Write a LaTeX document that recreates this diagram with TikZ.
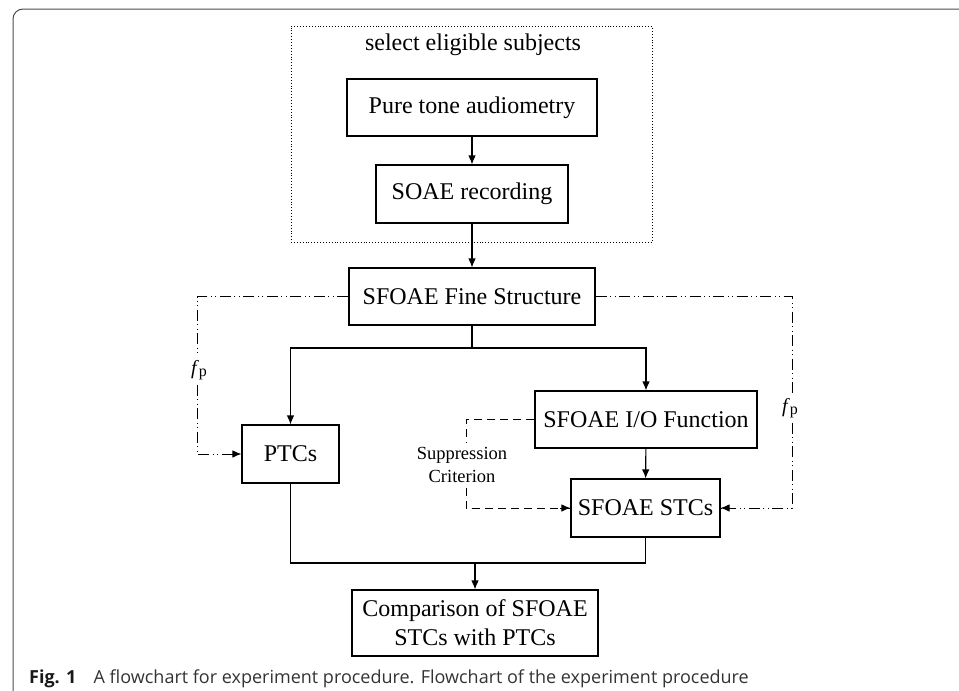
\documentclass[tikz,border=0pt]{standalone}
\usepackage{fontspec}
\setmainfont{Liberation Serif}
\newfontfamily\capfont{Open Sans}
\usetikzlibrary{arrows.meta}
\begin{document}
\begin{tikzpicture}[x=1pt,y=-1pt,
  box/.style={draw,line width=1.1pt,inner sep=0pt,font=\fontsize{24}{28}\selectfont,align=center},
  flow/.style={line width=1.1pt,-{Latex[length=9pt,width=7.5pt]}},
  plain/.style={line width=1.1pt},
  dd/.style={line width=0.9pt,dash pattern=on 11pt off 3.5pt on 1pt off 3.5pt on 1pt off 3.5pt},
  dsh/.style={line width=1.0pt,dash pattern=on 8pt off 5pt},
  tip/.style={-{Latex[length=9pt,width=7.5pt]}},
  lab/.style={inner xsep=2pt,inner ysep=5pt}]
\useasboundingbox (0,0) rectangle (959,691);
% page frame
\draw[line width=1pt,color=black!70,rounded corners=10pt] (975,9) -- (13,9) -- (13,710);
% dotted group
\node[draw,dotted,line width=0.9pt,minimum width=361pt,minimum height=216pt,inner sep=0pt] (grp) at (471.5,134) {};
\node[font=\fontsize{24}{28}\selectfont] (sel) at (473,45) {select eligible subjects};
% boxes
\node[box,minimum width=250pt,minimum height=57pt] (pta) at (472,107.5) {Pure tone audiometry};
\node[box,minimum width=192pt,minimum height=58pt] (soae) at (472,194) {SOAE recording};
\node[box,minimum width=246pt,minimum height=57pt] (fs) at (472,296.5) {SFOAE Fine Structure};
\node[box,minimum width=97pt,minimum height=58pt] (ptc) at (290.5,454) {PTCs};
\node[box,minimum width=222pt,minimum height=57pt] (io) at (646,419.5) {SFOAE I/O Function};
\node[box,minimum width=149pt,minimum height=58pt] (stc) at (645.5,508) {SFOAE STCs};
\node[box,minimum width=246pt,minimum height=66pt,font=\fontsize{24}{29}\selectfont] (comp) at (475,623) {Comparison of SFOAE\\STCs with PTCs};
% labels
\node[lab,font=\fontsize{20}{24}\selectfont] (fpl) at (199,370) {\textit{f}\raisebox{-1.5pt}{\fontsize{16}{18}\selectfont p}};
\node[lab,font=\fontsize{20}{24}\selectfont] (fpr) at (790,408) {\textit{f}\raisebox{-1.5pt}{\fontsize{16}{18}\selectfont p}};
\node[lab,font=\fontsize{18.5}{23}\selectfont,align=center] (supp) at (462,465) {Suppression\\Criterion};
% coordinates
\coordinate (split) at (472,348);
\coordinate (join) at (475,563);
\coordinate (ll) at (197,296.5);
\coordinate (lr) at (792,296.5);
\coordinate (sc) at (466,419.5);
% solid flow
\draw[flow] (pta) -- (soae);
\draw[flow] (soae) -- (fs);
\draw[plain] (fs.south) -- (split);
\draw[flow] (split) -| (ptc.north);
\draw[flow] (split) -| (io.north);
\draw[flow] (io) -- (stc);
\draw[plain] (ptc.south) |- (join);
\draw[plain] (stc.south) |- (join);
\draw[flow] (join) -- (comp.north);
% dash-dot feedback
\draw[dd] (fs.west) -- (ll) -- (ll |- fpl.north);
\draw[dd] (ll |- fpl.south) |- (ptc.west);
\draw[tip,line width=0.9pt] ([xshift=-10pt]ptc.west) -- (ptc.west);
\draw[dd] (fs.east) -- (lr) -- (lr |- fpr.north);
\draw[dd] (lr |- fpr.south) |- (stc.east);
\draw[tip,line width=0.9pt] ([xshift=10pt]stc.east) -- (stc.east);
% suppression criterion
\draw[dsh] (io.west) -- (sc) -- (sc |- supp.north);
\draw[dsh] (sc |- supp.south) |- (stc.west);
\draw[tip,line width=1pt] ([xshift=-10pt]stc.west) -- (stc.west);
% caption
\node[anchor=base west,inner sep=0pt,font=\capfont\fontsize{18}{21}\selectfont,color=black!80] (cap) at (29,683)
  {{\bfseries\color{black!90}Fig. 1}\hspace{0.7em} A flowchart for experiment procedure. Flowchart of the experiment procedure};
\end{tikzpicture}
\end{document}
